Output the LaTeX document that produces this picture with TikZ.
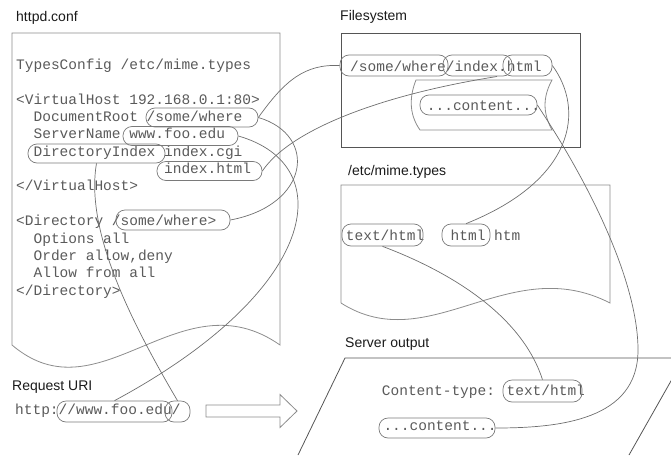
\documentclass[tikz,border=0pt]{standalone}
\usepackage{fontspec}
\setmainfont{Liberation Sans}
\newfontfamily\codefont{Liberation Mono}
\definecolor{codec}{HTML}{5A5A5A}
\definecolor{labc}{HTML}{1A1A1A}
\definecolor{boxc}{HTML}{8C8C8C}
\definecolor{darkc}{HTML}{555555}
\definecolor{ovalc}{HTML}{7A7A7A}
\definecolor{linec}{HTML}{6E6E6E}
\begin{document}
\begin{tikzpicture}[x=1pt,y=-1pt,
  codetext/.style={anchor=base west, inner sep=0pt, font=\codefont\fontsize{14.5}{17}\selectfont, text=codec},
  lbl/.style={anchor=base west, inner sep=0pt, font=\fontsize{14}{16}\selectfont, text=labc},
  ovalbox/.style={draw=ovalc, line width=0.7pt, rounded corners=9pt, inner sep=0pt},
  conn/.style={draw=linec, line width=0.7pt},
  shapeline/.style={draw=boxc, line width=0.8pt},
  darkline/.style={draw=darkc, line width=0.8pt}]
\clip (0,0) rectangle (671,455);
% ---------- shapes ----------
% httpd.conf document
\draw[shapeline] (12,345) -- (12,33) -- (280,33) -- (280,345)
  .. controls (180,275) and (100,420) .. (12,345);
% filesystem box
\draw[darkline] (341,33) rectangle (580,147);
% content scroll
\draw[shapeline] (416,80) -- (552,80) .. controls (542.7,97) and (542.7,113) .. (552,130)
  -- (420,130) .. controls (408,113) and (410,95) .. (416,80) -- cycle;
% mime.types document
\draw[shapeline] (341,303) -- (341,185) -- (610,185) -- (610,303)
  .. controls (509,251) and (429,359) .. (341,303);
% server output parallelogram
\draw[darkline] (298,455) -- (345,358) -- (690,358);
\draw[darkline] (684,358) -- (629,455);
% big arrow
\draw[shapeline] (206,405) -- (280,405) -- (280,394.5) -- (297,411) -- (280,427.5)
  -- (280,417) -- (206,417) -- cycle;
% ---------- labels ----------
\node[lbl] (lhttpd) at (16,21.7) {httpd.conf};
\node[lbl] (lfs) at (340,20.7) {Filesystem};
\node[lbl] (lmime) at (348,175) {/etc/mime.types};
\node[lbl] (lout) at (345,347.3) {Server output};
\node[lbl] (luri) at (12,390.7) {Request URI};
% ---------- code text ----------
\node[codetext] (l1) at (16,69.5) {TypesConfig /etc/mime.types};
\node[codetext] (l2) at (16,104.2) {<VirtualHost 192.168.0.1:80>};
\node[codetext] (l3) at (33.4,121.55) {DocumentRoot /some/where};
\node[codetext] (l4) at (33.4,138.9) {ServerName www.foo.edu};
\node[codetext] (l5) at (33.4,156.25) {DirectoryIndex index.cgi};
\node[codetext] (l6) at (163.9,173.6) {index.html};
\node[codetext] (l7) at (16,190.95) {</VirtualHost>};
\node[codetext] (l8) at (16,225.65) {<Directory /some/where>};
\node[codetext] (l9) at (33.4,243) {Options all};
\node[codetext] (l10) at (33.4,260.35) {Order allow,deny};
\node[codetext] (l11) at (33.4,277.7) {Allow from all};
\node[codetext] (l12) at (16,295.05) {</Directory>};
\node[codetext] (uri) at (15,414) {http://www.foo.edu/};
\node[codetext] (fsline) at (350,71) {/some/where/index.html};
\node[codetext] (fscont) at (426.7,110) {...content...};
\node[codetext] (mimetxt) at (345.7,240) {text/html};
\node[codetext] (mimeext) at (450.5,240) {html htm};
\node[codetext] (ctype) at (381.7,395) {Content-type: text/html};
\node[codetext] (outc) at (383.3,430) {...content...};
% ---------- ovals ----------
\node[ovalbox, minimum width=112pt, minimum height=19pt] (docroot) at (202,117.5) {};
\node[ovalbox, minimum width=115pt, minimum height=19pt] (servername) at (180.5,136) {};
\node[ovalbox, minimum width=137pt, minimum height=19pt] (dirindex) at (96.5,153.5) {};
\node[ovalbox, minimum width=105pt, minimum height=19pt] (indexhtml) at (209.5,171) {};
\node[ovalbox, minimum width=114pt, minimum height=20pt] (dirwhere) at (173,220) {};
\node[ovalbox, minimum width=108pt, minimum height=21pt] (fswhere) at (394,65.5) {};
\node[ovalbox, minimum width=69pt, minimum height=21pt] (fsindex) at (477.5,65.5) {};
\node[ovalbox, minimum width=49pt, minimum height=21pt] (fshtml) at (527.5,65.5) {};
\node[ovalbox, minimum width=117pt, minimum height=20pt] (fscontent) at (478.5,105) {};
\node[ovalbox, minimum width=81pt, minimum height=22pt] (mimetext) at (382.5,235) {};
\node[ovalbox, minimum width=48pt, minimum height=22pt] (mimehtml) at (466,235) {};
\node[ovalbox, minimum width=79pt, minimum height=22pt] (outtype) at (542.5,391) {};
\node[ovalbox, minimum width=116pt, minimum height=20pt] (outcontent) at (437,428) {};
\node[ovalbox, minimum width=115pt, minimum height=21pt] (urihost) at (114.5,411.5) {};
\node[ovalbox, minimum width=25pt, minimum height=21pt] (urislash) at (177.5,411.5) {};
\coordinate (fsdot) at (497,76.5);
% ---------- connectors ----------
\draw[conn] (docroot.east) .. controls (285,80) and (305,64) .. (fswhere.west);
\draw[conn] (docroot.east) .. controls (318,135) and (310,205) .. (dirwhere.east);
\draw[conn] (servername.east) .. controls (340,165) and (320,290) .. (urihost.north);
\draw[conn] (dirindex.south) .. controls (85,230) and (130,320) .. (urislash.north);
\draw[conn] (indexhtml.east) .. controls (290,130) and (380,95) .. (fsdot);
\draw[conn] (fshtml.east) .. controls (585,110) and (575,180) .. (mimehtml.north);
\draw[conn] (fscontent.east) .. controls (600,200) and (638,290) .. (638,350)
  .. controls (638,420) and (560,428) .. (outcontent.east);
\draw[conn] (mimetext.south) .. controls (440,268) and (520,310) .. (outtype.north);
\end{tikzpicture}
\end{document}
